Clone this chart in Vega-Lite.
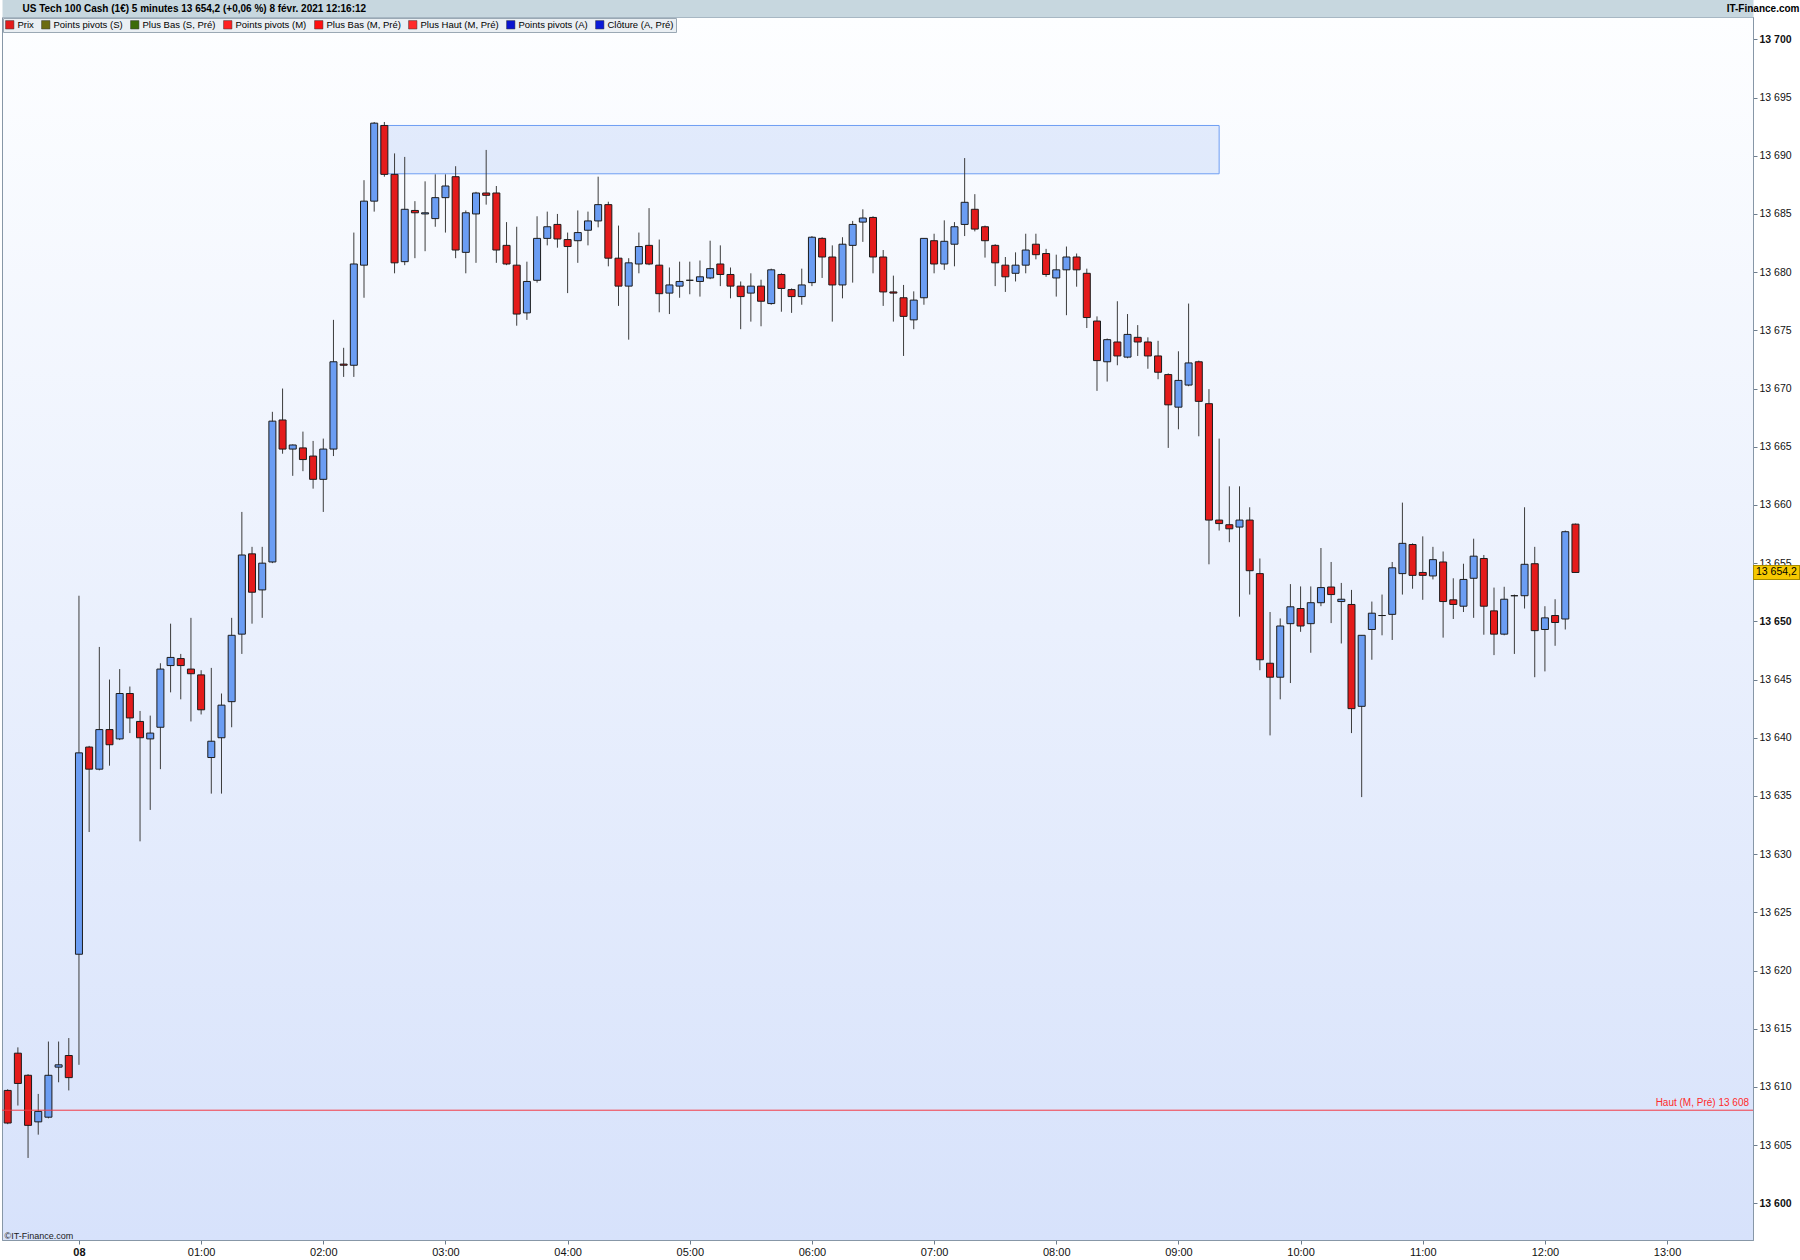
{
 "$schema": "https://vega.github.io/schema/vega-lite/v6.json",
 "width": 1751,
 "height": 1223,
 "padding": {"left": 1, "top": 3, "right": 0, "bottom": 0},
 "background": "#ffffff",
 "config": {
  "font": "Liberation Sans",
  "locale": {"number": {"decimal": ",", "thousands": " ", "grouping": [3], "currency": ["", " €"]}},
  "view": {"stroke": "#8797a7", "strokeWidth": 1, "fill": {"gradient": "linear", "x1": 0, "y1": 0, "x2": 0, "y2": 1, "stops": [{"offset": 0, "color": "#fdfeff"}, {"offset": 1, "color": "#d7e2fb"}]}},
  "axis": {"grid": false},
  "scale": {"continuousPadding": 0}
 },
 "data": {"format": {"parse": {"t": "utc:'%Y-%m-%d %H:%M'"}}, "values": [
{"t":"2021-02-07 23:25","o":13609.7,"h":13609.8,"l":13606.8,"c":13606.9},
{"t":"2021-02-07 23:30","o":13612.9,"h":13613.4,"l":13608.4,"c":13610.3},
{"t":"2021-02-07 23:35","o":13611.0,"h":13611.1,"l":13603.9,"c":13606.7},
{"t":"2021-02-07 23:40","o":13607.0,"h":13609.4,"l":13605.9,"c":13607.9},
{"t":"2021-02-07 23:45","o":13607.4,"h":13613.9,"l":13607.3,"c":13611.0},
{"t":"2021-02-07 23:50","o":13611.7,"h":13613.9,"l":13610.4,"c":13611.9},
{"t":"2021-02-07 23:55","o":13612.7,"h":13614.2,"l":13609.7,"c":13610.8},
{"t":"2021-02-08 00:00","o":13621.4,"h":13652.2,"l":13611.9,"c":13638.7},
{"t":"2021-02-08 00:05","o":13639.2,"h":13639.3,"l":13631.9,"c":13637.3},
{"t":"2021-02-08 00:10","o":13637.3,"h":13647.8,"l":13637.2,"c":13640.7},
{"t":"2021-02-08 00:15","o":13640.7,"h":13645.0,"l":13637.6,"c":13639.4},
{"t":"2021-02-08 00:20","o":13639.9,"h":13645.9,"l":13639.8,"c":13643.8},
{"t":"2021-02-08 00:25","o":13643.8,"h":13644.4,"l":13640.4,"c":13641.7},
{"t":"2021-02-08 00:30","o":13641.4,"h":13642.3,"l":13631.1,"c":13640.0},
{"t":"2021-02-08 00:35","o":13639.9,"h":13641.9,"l":13633.8,"c":13640.4},
{"t":"2021-02-08 00:40","o":13640.9,"h":13646.4,"l":13637.3,"c":13645.9},
{"t":"2021-02-08 00:45","o":13646.2,"h":13649.8,"l":13643.9,"c":13646.9},
{"t":"2021-02-08 00:50","o":13646.8,"h":13647.2,"l":13643.3,"c":13646.2},
{"t":"2021-02-08 00:55","o":13645.9,"h":13650.3,"l":13641.4,"c":13645.5},
{"t":"2021-02-08 01:00","o":13645.4,"h":13645.8,"l":13642.0,"c":13642.4},
{"t":"2021-02-08 01:05","o":13638.3,"h":13646.0,"l":13635.2,"c":13639.7},
{"t":"2021-02-08 01:10","o":13640.0,"h":13643.8,"l":13635.2,"c":13642.8},
{"t":"2021-02-08 01:15","o":13643.1,"h":13650.3,"l":13640.9,"c":13648.8},
{"t":"2021-02-08 01:20","o":13648.9,"h":13659.4,"l":13647.2,"c":13655.7},
{"t":"2021-02-08 01:25","o":13655.8,"h":13656.4,"l":13649.8,"c":13652.5},
{"t":"2021-02-08 01:30","o":13652.7,"h":13656.4,"l":13650.3,"c":13655.0},
{"t":"2021-02-08 01:35","o":13655.1,"h":13668.0,"l":13655.0,"c":13667.2},
{"t":"2021-02-08 01:40","o":13667.3,"h":13670.0,"l":13664.4,"c":13664.8},
{"t":"2021-02-08 01:45","o":13664.8,"h":13665.2,"l":13662.5,"c":13665.15},
{"t":"2021-02-08 01:50","o":13664.9,"h":13666.3,"l":13662.9,"c":13663.9},
{"t":"2021-02-08 01:55","o":13664.2,"h":13665.5,"l":13661.4,"c":13662.2},
{"t":"2021-02-08 02:00","o":13662.2,"h":13665.7,"l":13659.4,"c":13664.8},
{"t":"2021-02-08 02:05","o":13664.8,"h":13675.9,"l":13664.2,"c":13672.3},
{"t":"2021-02-08 02:10","o":13672.1,"h":13673.5,"l":13671.0,"c":13672.0},
{"t":"2021-02-08 02:15","o":13672.0,"h":13683.4,"l":13671.0,"c":13680.7},
{"t":"2021-02-08 02:20","o":13680.6,"h":13687.9,"l":13677.8,"c":13686.1},
{"t":"2021-02-08 02:25","o":13686.1,"h":13692.9,"l":13685.2,"c":13692.8},
{"t":"2021-02-08 02:30","o":13692.6,"h":13692.9,"l":13688.2,"c":13688.4},
{"t":"2021-02-08 02:35","o":13688.4,"h":13690.2,"l":13679.9,"c":13680.8},
{"t":"2021-02-08 02:40","o":13680.9,"h":13689.9,"l":13680.6,"c":13685.4},
{"t":"2021-02-08 02:45","o":13685.3,"h":13686.1,"l":13681.2,"c":13685.1},
{"t":"2021-02-08 02:50","o":13685.0,"h":13687.8,"l":13681.8,"c":13685.1},
{"t":"2021-02-08 02:55","o":13684.6,"h":13688.4,"l":13683.9,"c":13686.4},
{"t":"2021-02-08 03:00","o":13686.4,"h":13688.4,"l":13683.4,"c":13687.4},
{"t":"2021-02-08 03:05","o":13688.2,"h":13689.1,"l":13681.2,"c":13681.9},
{"t":"2021-02-08 03:10","o":13681.7,"h":13685.3,"l":13679.9,"c":13685.1},
{"t":"2021-02-08 03:15","o":13685.0,"h":13686.9,"l":13680.8,"c":13686.8},
{"t":"2021-02-08 03:20","o":13686.8,"h":13690.5,"l":13685.8,"c":13686.6},
{"t":"2021-02-08 03:25","o":13686.8,"h":13687.4,"l":13680.8,"c":13681.9},
{"t":"2021-02-08 03:30","o":13682.3,"h":13684.3,"l":13680.6,"c":13680.7},
{"t":"2021-02-08 03:35","o":13680.6,"h":13683.9,"l":13675.4,"c":13676.4},
{"t":"2021-02-08 03:40","o":13676.5,"h":13680.9,"l":13675.9,"c":13679.2},
{"t":"2021-02-08 03:45","o":13679.3,"h":13684.8,"l":13679.1,"c":13682.9},
{"t":"2021-02-08 03:50","o":13682.9,"h":13685.2,"l":13682.3,"c":13683.9},
{"t":"2021-02-08 03:55","o":13684.1,"h":13685.0,"l":13682.1,"c":13682.85},
{"t":"2021-02-08 04:00","o":13682.8,"h":13683.4,"l":13678.2,"c":13682.2},
{"t":"2021-02-08 04:05","o":13682.7,"h":13685.3,"l":13680.8,"c":13683.4},
{"t":"2021-02-08 04:10","o":13683.6,"h":13685.2,"l":13682.3,"c":13684.4},
{"t":"2021-02-08 04:15","o":13684.4,"h":13688.2,"l":13683.85,"c":13685.8},
{"t":"2021-02-08 04:20","o":13685.8,"h":13686.05,"l":13680.5,"c":13681.2},
{"t":"2021-02-08 04:25","o":13681.2,"h":13684.0,"l":13677.1,"c":13678.8},
{"t":"2021-02-08 04:30","o":13678.8,"h":13681.2,"l":13674.2,"c":13680.8},
{"t":"2021-02-08 04:35","o":13680.7,"h":13683.4,"l":13679.9,"c":13682.2},
{"t":"2021-02-08 04:40","o":13682.3,"h":13685.5,"l":13680.6,"c":13680.7},
{"t":"2021-02-08 04:45","o":13680.6,"h":13682.8,"l":13676.55,"c":13678.15},
{"t":"2021-02-08 04:50","o":13678.2,"h":13680.4,"l":13676.4,"c":13678.9},
{"t":"2021-02-08 04:55","o":13678.8,"h":13680.9,"l":13677.8,"c":13679.2},
{"t":"2021-02-08 05:00","o":13679.3,"h":13680.9,"l":13678.1,"c":13679.3},
{"t":"2021-02-08 05:05","o":13679.2,"h":13681.0,"l":13677.9,"c":13679.6},
{"t":"2021-02-08 05:10","o":13679.5,"h":13682.7,"l":13679.4,"c":13680.3},
{"t":"2021-02-08 05:15","o":13680.7,"h":13682.3,"l":13678.8,"c":13679.8},
{"t":"2021-02-08 05:20","o":13679.8,"h":13680.4,"l":13677.75,"c":13678.8},
{"t":"2021-02-08 05:25","o":13678.8,"h":13679.2,"l":13675.1,"c":13677.9},
{"t":"2021-02-08 05:30","o":13678.2,"h":13679.9,"l":13675.75,"c":13678.8},
{"t":"2021-02-08 05:35","o":13678.8,"h":13679.35,"l":13675.35,"c":13677.5},
{"t":"2021-02-08 05:40","o":13677.3,"h":13680.3,"l":13677.2,"c":13680.2},
{"t":"2021-02-08 05:45","o":13679.8,"h":13679.9,"l":13676.6,"c":13678.6},
{"t":"2021-02-08 05:50","o":13678.5,"h":13678.6,"l":13676.5,"c":13677.9},
{"t":"2021-02-08 05:55","o":13677.9,"h":13680.3,"l":13677.2,"c":13678.9},
{"t":"2021-02-08 06:00","o":13679.1,"h":13683.1,"l":13678.8,"c":13683.0},
{"t":"2021-02-08 06:05","o":13682.9,"h":13683.0,"l":13679.5,"c":13681.3},
{"t":"2021-02-08 06:10","o":13681.3,"h":13682.3,"l":13675.75,"c":13678.9},
{"t":"2021-02-08 06:15","o":13678.9,"h":13683.0,"l":13677.75,"c":13682.4},
{"t":"2021-02-08 06:20","o":13682.3,"h":13684.4,"l":13679.1,"c":13684.1},
{"t":"2021-02-08 06:25","o":13684.3,"h":13685.4,"l":13682.6,"c":13684.65},
{"t":"2021-02-08 06:30","o":13684.7,"h":13684.8,"l":13679.9,"c":13681.3},
{"t":"2021-02-08 06:35","o":13681.3,"h":13681.9,"l":13677.1,"c":13678.3},
{"t":"2021-02-08 06:40","o":13678.3,"h":13679.7,"l":13675.75,"c":13678.2},
{"t":"2021-02-08 06:45","o":13677.8,"h":13678.9,"l":13672.8,"c":13676.2},
{"t":"2021-02-08 06:50","o":13675.9,"h":13678.35,"l":13675.1,"c":13677.6},
{"t":"2021-02-08 06:55","o":13677.8,"h":13682.9,"l":13677.2,"c":13682.9},
{"t":"2021-02-08 07:00","o":13682.7,"h":13683.3,"l":13679.9,"c":13680.7},
{"t":"2021-02-08 07:05","o":13680.7,"h":13684.45,"l":13680.2,"c":13682.65},
{"t":"2021-02-08 07:10","o":13682.4,"h":13684.3,"l":13680.5,"c":13683.9},
{"t":"2021-02-08 07:15","o":13684.1,"h":13689.8,"l":13683.1,"c":13686.0},
{"t":"2021-02-08 07:20","o":13685.4,"h":13686.7,"l":13683.5,"c":13683.7},
{"t":"2021-02-08 07:25","o":13683.9,"h":13684.0,"l":13681.25,"c":13682.7},
{"t":"2021-02-08 07:30","o":13682.3,"h":13682.4,"l":13678.8,"c":13680.8},
{"t":"2021-02-08 07:35","o":13680.6,"h":13681.3,"l":13678.3,"c":13679.6},
{"t":"2021-02-08 07:40","o":13679.9,"h":13681.7,"l":13679.2,"c":13680.6},
{"t":"2021-02-08 07:45","o":13680.6,"h":13683.3,"l":13679.9,"c":13681.9},
{"t":"2021-02-08 07:50","o":13682.4,"h":13683.3,"l":13681.1,"c":13681.5},
{"t":"2021-02-08 07:55","o":13681.6,"h":13682.0,"l":13679.6,"c":13679.8},
{"t":"2021-02-08 08:00","o":13679.5,"h":13681.5,"l":13677.9,"c":13680.2},
{"t":"2021-02-08 08:05","o":13680.2,"h":13682.2,"l":13676.3,"c":13681.3},
{"t":"2021-02-08 08:10","o":13681.3,"h":13681.6,"l":13678.75,"c":13680.2},
{"t":"2021-02-08 08:15","o":13679.9,"h":13680.3,"l":13675.2,"c":13676.1},
{"t":"2021-02-08 08:20","o":13675.8,"h":13676.2,"l":13669.8,"c":13672.4},
{"t":"2021-02-08 08:25","o":13672.3,"h":13674.3,"l":13670.6,"c":13674.2},
{"t":"2021-02-08 08:30","o":13674.0,"h":13677.5,"l":13672.0,"c":13672.8},
{"t":"2021-02-08 08:35","o":13672.7,"h":13676.4,"l":13672.6,"c":13674.65},
{"t":"2021-02-08 08:40","o":13674.4,"h":13675.45,"l":13672.8,"c":13674.0},
{"t":"2021-02-08 08:45","o":13674.0,"h":13674.4,"l":13671.7,"c":13672.8},
{"t":"2021-02-08 08:50","o":13672.8,"h":13674.1,"l":13670.8,"c":13671.4},
{"t":"2021-02-08 08:55","o":13671.2,"h":13671.3,"l":13664.9,"c":13668.6},
{"t":"2021-02-08 09:00","o":13668.4,"h":13673.2,"l":13666.5,"c":13670.7},
{"t":"2021-02-08 09:05","o":13670.3,"h":13677.3,"l":13670.2,"c":13672.2},
{"t":"2021-02-08 09:10","o":13672.3,"h":13672.4,"l":13665.9,"c":13668.9},
{"t":"2021-02-08 09:15","o":13668.7,"h":13669.95,"l":13654.9,"c":13658.7},
{"t":"2021-02-08 09:20","o":13658.7,"h":13665.7,"l":13657.8,"c":13658.4},
{"t":"2021-02-08 09:25","o":13658.3,"h":13661.6,"l":13656.8,"c":13657.95},
{"t":"2021-02-08 09:30","o":13658.1,"h":13661.6,"l":13650.4,"c":13658.7},
{"t":"2021-02-08 09:35","o":13658.7,"h":13659.8,"l":13652.3,"c":13654.35},
{"t":"2021-02-08 09:40","o":13654.1,"h":13655.4,"l":13645.8,"c":13646.7},
{"t":"2021-02-08 09:45","o":13646.4,"h":13650.8,"l":13640.2,"c":13645.2},
{"t":"2021-02-08 09:50","o":13645.2,"h":13650.25,"l":13643.3,"c":13649.6},
{"t":"2021-02-08 09:55","o":13649.8,"h":13653.2,"l":13644.7,"c":13651.25},
{"t":"2021-02-08 10:00","o":13651.1,"h":13653.0,"l":13649.1,"c":13649.6},
{"t":"2021-02-08 10:05","o":13649.8,"h":13653.0,"l":13647.3,"c":13651.6},
{"t":"2021-02-08 10:10","o":13651.6,"h":13656.3,"l":13651.3,"c":13652.9},
{"t":"2021-02-08 10:15","o":13652.95,"h":13655.1,"l":13649.85,"c":13652.3},
{"t":"2021-02-08 10:20","o":13651.7,"h":13653.3,"l":13648.1,"c":13651.9},
{"t":"2021-02-08 10:25","o":13651.45,"h":13652.7,"l":13640.4,"c":13642.5},
{"t":"2021-02-08 10:30","o":13642.7,"h":13648.8,"l":13634.9,"c":13648.8},
{"t":"2021-02-08 10:35","o":13649.3,"h":13651.7,"l":13646.7,"c":13650.7},
{"t":"2021-02-08 10:40","o":13650.5,"h":13652.3,"l":13648.8,"c":13650.5},
{"t":"2021-02-08 10:45","o":13650.6,"h":13655.1,"l":13648.4,"c":13654.6},
{"t":"2021-02-08 10:50","o":13654.1,"h":13660.2,"l":13652.3,"c":13656.7},
{"t":"2021-02-08 10:55","o":13656.6,"h":13656.7,"l":13652.8,"c":13653.95},
{"t":"2021-02-08 11:00","o":13654.2,"h":13657.3,"l":13651.85,"c":13653.95},
{"t":"2021-02-08 11:05","o":13653.9,"h":13656.4,"l":13653.6,"c":13655.3},
{"t":"2021-02-08 11:10","o":13655.1,"h":13656.0,"l":13648.6,"c":13651.7},
{"t":"2021-02-08 11:15","o":13651.85,"h":13653.7,"l":13650.2,"c":13651.45},
{"t":"2021-02-08 11:20","o":13651.3,"h":13654.95,"l":13650.8,"c":13653.6},
{"t":"2021-02-08 11:25","o":13653.7,"h":13657.1,"l":13650.3,"c":13655.6},
{"t":"2021-02-08 11:30","o":13655.4,"h":13655.7,"l":13648.85,"c":13651.3},
{"t":"2021-02-08 11:35","o":13650.9,"h":13652.9,"l":13647.1,"c":13648.9},
{"t":"2021-02-08 11:40","o":13648.9,"h":13652.97,"l":13648.8,"c":13651.9},
{"t":"2021-02-08 11:45","o":13652.2,"h":13652.3,"l":13647.2,"c":13652.2},
{"t":"2021-02-08 11:50","o":13652.2,"h":13659.8,"l":13651.1,"c":13654.9},
{"t":"2021-02-08 11:55","o":13654.95,"h":13656.4,"l":13645.2,"c":13649.2},
{"t":"2021-02-08 12:00","o":13649.3,"h":13651.3,"l":13645.7,"c":13650.3},
{"t":"2021-02-08 12:05","o":13650.5,"h":13651.9,"l":13647.9,"c":13649.9},
{"t":"2021-02-08 12:10","o":13650.2,"h":13657.8,"l":13649.3,"c":13657.7},
{"t":"2021-02-08 12:15","o":13658.35,"h":13658.4,"l":13654.2,"c":13654.2}
 ]},
 "layer": [
  {
   "data": {"values": [{"t1": "2021-02-08 02:28", "t2": "2021-02-08 09:20", "y1": 13688.45, "y2": 13692.6}], "format": {"parse": {"t1": "utc:'%Y-%m-%d %H:%M'", "t2": "utc:'%Y-%m-%d %H:%M'"}}},
   "mark": {"type": "rect", "fill": "#b4cbf6", "fillOpacity": 0.35, "stroke": "#6e9ef3", "strokeWidth": 1},
   "encoding": {
    "x": {"field": "t1", "type": "temporal",
     "scale": {"type": "utc", "padding": 0, "domain": [{"year": 2021, "month": 2, "date": 7, "hours": 23, "minutes": 22, "seconds": 12, "utc": true}, {"year": 2021, "month": 2, "date": 8, "hours": 13, "minutes": 42, "seconds": 12, "utc": true}]},
     "axis": {"orient": "top", "offset": 9, "domain": true, "domainWidth": 18, "domainColor": "#c7d7df", "domainCap": "butt", "ticks": false, "labels": false, "grid": false,
      "title": "US Tech 100 Cash (1€) 5 minutes 13 654,2 (+0,06 %) 8 févr. 2021 12:16:12",
      "titleX": 20, "titleY": 0, "titleAlign": "left", "titleBaseline": "middle", "titleAngle": 0, "titleFontSize": 10, "titleFontWeight": "bold", "titleColor": "#000000", "titleFont": "Liberation Sans"}},
    "x2": {"field": "t2"},
    "y": {"field": "y1", "type": "quantitative", "scale": {"domain": [13596.85, 13701.92], "zero": false, "nice": false},
     "axis": {"orient": "right", "values": [13600,13605,13610,13615,13620,13625,13630,13635,13640,13645,13650,13655,13660,13665,13670,13675,13680,13685,13690,13695,13700],
      "format": ",.0f", "labelFontSize": 10.5, "labelColor": "#111111", "labelPadding": 2,
      "labelFontWeight": {"condition": {"test": "datum.value % 50 == 0", "value": "bold"}, "value": "normal"},
      "tickSize": 4, "tickColor": "#6d7d8d", "domainColor": "#8797a7", "grid": false,
      "title": "IT-Finance.com", "titleAngle": 0, "titleX": 46, "titleY": -9, "titleAlign": "right", "titleBaseline": "middle", "titleFontSize": 10, "titleFontWeight": "bold", "titleColor": "#000000"}},
    "y2": {"field": "y2"}
   }
  },
  {
   "mark": {"type": "rule", "color": "#3c3c3c", "strokeWidth": 1},
   "encoding": {
    "x": {"field": "t", "type": "temporal",
     "axis": {"orient": "bottom",
      "values": [{"year":2021,"month":2,"date":8,"hours":0,"utc":true},{"year":2021,"month":2,"date":8,"hours":1,"utc":true},{"year":2021,"month":2,"date":8,"hours":2,"utc":true},{"year":2021,"month":2,"date":8,"hours":3,"utc":true},{"year":2021,"month":2,"date":8,"hours":4,"utc":true},{"year":2021,"month":2,"date":8,"hours":5,"utc":true},{"year":2021,"month":2,"date":8,"hours":6,"utc":true},{"year":2021,"month":2,"date":8,"hours":7,"utc":true},{"year":2021,"month":2,"date":8,"hours":8,"utc":true},{"year":2021,"month":2,"date":8,"hours":9,"utc":true},{"year":2021,"month":2,"date":8,"hours":10,"utc":true},{"year":2021,"month":2,"date":8,"hours":11,"utc":true},{"year":2021,"month":2,"date":8,"hours":12,"utc":true},{"year":2021,"month":2,"date":8,"hours":13,"utc":true}],
      "labelExpr": "utchours(datum.value) == 0 ? '08' : utcFormat(datum.value, '%H:%M')",
      "labelFont": "Liberation Sans Narrow, Liberation Sans", "labelFontSize": 11, "labelColor": "#111111",
      "labelFontWeight": {"condition": {"test": "utchours(datum.value) == 0", "value": "bold"}, "value": "normal"},
      "tickSize": 4, "tickColor": "#6d7d8d", "domainColor": "#8797a7", "labelPadding": 2, "labelFlush": false, "labelOverlap": false, "grid": false,
      "title": "©IT-Finance.com", "titleX": 2, "titleY": -5, "titleAlign": "left", "titleBaseline": "middle", "titleAngle": 0, "titleFontSize": 9, "titleFontWeight": "normal", "titleColor": "#1a1a1a"}},
    "y": {"field": "l", "type": "quantitative", "axis": null},
    "y2": {"field": "h"}
   }
  },
  {
   "mark": {"type": "bar", "width": 7, "stroke": "#1c1c1c", "strokeWidth": 1},
   "encoding": {
    "x": {"field": "t", "type": "temporal", "axis": null},
    "y": {"field": "o", "type": "quantitative", "axis": null},
    "y2": {"field": "c"},
    "fill": {"condition": {"test": "datum.c < datum.o", "value": "#e41b1b"}, "value": "#6b9df3"}
   }
  },
  {
   "data": {"values": [{"serie": "Plus Haut (M, Pré)", "v": 13608, "label": "Haut (M, Pré) 13 608"}]},
   "mark": {"type": "rule", "strokeWidth": 1, "color": "#f23a45"},
   "encoding": {
    "y": {"field": "v", "type": "quantitative", "axis": null}
   }
  },
  {
   "data": {"values": [{"serie": "Plus Haut (M, Pré)", "v": 13608, "label": "Haut (M, Pré) 13 608"}]},
   "mark": {"type": "text", "align": "right", "baseline": "bottom", "x": "width", "dx": -4, "dy": -2, "fontSize": 10, "font": "Liberation Sans"},
   "encoding": {
    "y": {"field": "v", "type": "quantitative", "axis": null},
    "text": {"field": "label"},
    "color": {"field": "serie", "type": "nominal",
     "scale": {"domain": ["Prix", "Points pivots (S)", "Plus Bas (S, Pré)", "Points pivots (M)", "Plus Bas (M, Pré)", "Plus Haut (M, Pré)", "Points pivots (A)", "Clôture (A, Pré)"],
               "range": ["#e41b1b", "#6b6b12", "#3d6b0a", "#ff2020", "#ff1010", "#ff2a2a", "#0a14d0", "#0a1ad8"]},
     "legend": {"title": null, "orient": "top-left", "offset": 1, "direction": "horizontal", "symbolType": "square", "symbolSize": 70,
      "labelFontSize": 9.5, "labelFont": "Liberation Sans", "labelColor": "#000000", "labelOffset": 3, "columnPadding": 6, "padding": 2,
      "fillColor": "#eaeff3", "strokeColor": "#9aa8b4", "symbolStrokeColor": "#333333", "symbolStrokeWidth": 0.5, "symbolOpacity": 1}}
   }
  },
  {
   "data": {"values": [{"p": 13654.2, "txt": "13 654,2"}]},
   "mark": {"type": "rule", "x": "width", "x2": {"expr": "width + 47"}, "strokeWidth": 15, "color": "#a88c00", "clip": false},
   "encoding": {"y": {"field": "p", "type": "quantitative", "axis": null}}
  },
  {
   "data": {"values": [{"p": 13654.2, "txt": "13 654,2"}]},
   "mark": {"type": "rule", "x": {"expr": "width + 1"}, "x2": {"expr": "width + 46"}, "strokeWidth": 13, "color": "#f6c800", "clip": false},
   "encoding": {"y": {"field": "p", "type": "quantitative", "axis": null}}
  },
  {
   "data": {"values": [{"p": 13654.2, "txt": "13 654,2"}]},
   "mark": {"type": "text", "x": "width", "dx": 3, "align": "left", "baseline": "middle", "fontSize": 10.5, "color": "#000000", "clip": false},
   "encoding": {"y": {"field": "p", "type": "quantitative", "axis": null}, "text": {"field": "txt"}}
  }
 ],
 "resolve": {"axis": {"x": "independent", "y": "independent"}}
}
